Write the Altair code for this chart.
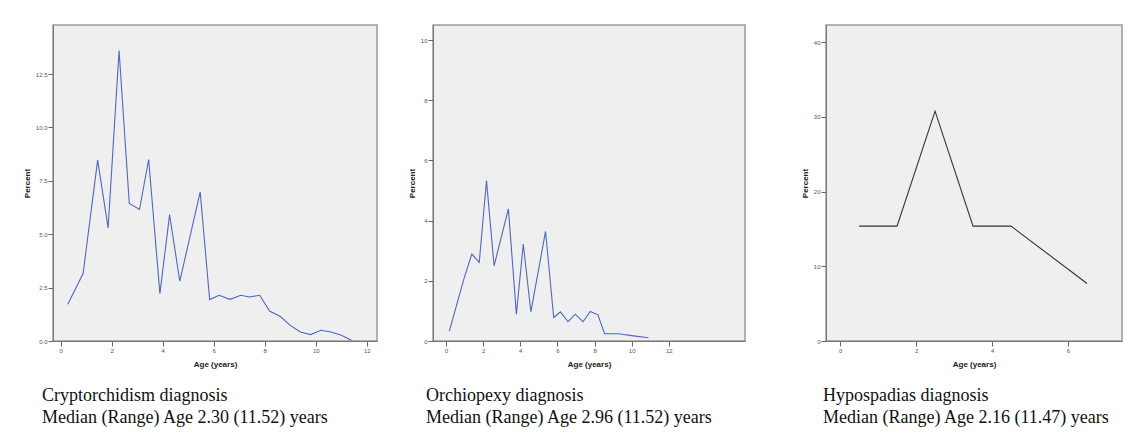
import altair as alt
import pandas as pd

# ---- data ----
crypt_age = [0.28, 0.88, 1.45, 1.86, 2.29, 2.69, 3.09, 3.45, 3.89, 4.27, 4.67, 5.47, 5.84,
             6.21, 6.64, 7.06, 7.40, 7.80, 8.20, 8.60, 9.00, 9.40, 9.80, 10.20, 10.60, 11.00, 11.40]
crypt_pct = [1.72, 3.16, 8.47, 5.30, 13.60, 6.44, 6.16, 8.50, 2.22, 5.92, 2.80, 6.98, 1.94,
             2.14, 1.95, 2.14, 2.06, 2.14, 1.39, 1.16, 0.73, 0.42, 0.30, 0.50, 0.42, 0.27, 0.03]

orch_age = [0.18, 0.98, 1.39, 1.79, 2.18, 2.59, 3.36, 3.79, 4.16, 4.57, 5.36, 5.80, 6.16,
            6.57, 6.96, 7.38, 7.77, 8.18, 8.54, 9.29, 10.10, 10.90]
orch_pct = [0.33, 2.10, 2.89, 2.61, 5.33, 2.50, 4.39, 0.89, 3.22, 0.97, 3.64, 0.78, 0.97,
            0.64, 0.89, 0.64, 0.98, 0.87, 0.24, 0.24, 0.17, 0.11]

hypo_age = [0.5, 1.5, 2.5, 3.5, 4.5, 6.5]
hypo_pct = [15.38, 15.38, 30.77, 15.38, 15.38, 7.69]

crypt_caption = ["Cryptorchidism diagnosis", "Median (Range) Age 2.30 (11.52) years"]
orch_caption = ["Orchiopexy diagnosis", "Median (Range) Age 2.96 (11.52) years"]
hypo_caption = ["Hypospadias diagnosis", "Median (Range) Age 2.16 (11.47) years"]

crypt_yticks = [0, 2.5, 5, 7.5, 10, 12.5]
orch_yticks = [0, 2, 4, 6, 8, 10]
hypo_yticks = [0, 10, 20, 30, 40]
crypt_xticks = [0, 2, 4, 6, 8, 10, 12]
orch_xticks = [0, 2, 4, 6, 8, 10, 12]
hypo_xticks = [0, 2, 4, 6]

H = 316
AX = dict(labelFontSize=6, labelColor="#555", tickSize=5, tickColor="#666",
          domainColor="#777", labelPadding=1, titleFontSize=8, titleFontWeight="bold",
          titleColor="#222", grid=False, labelFont="Liberation Sans", titleFont="Liberation Sans")


def panel(ages, pcts, color, xdom, xticks, ydom, yticks, yfmt, w, caption, cap_dx):
    df = pd.DataFrame({"age": ages, "pct": pcts})
    line = alt.Chart(df).mark_line(color=color, strokeWidth=1.1).encode(
        x=alt.X("age:Q", scale=alt.Scale(domain=xdom, nice=False, zero=False),
                axis=alt.Axis(values=xticks, format="d", title="Age (years)",
                              titlePadding=7, **AX)),
        y=alt.Y("pct:Q", scale=alt.Scale(domain=ydom, nice=False, zero=False),
                axis=alt.Axis(values=yticks, format=yfmt, title="Percent",
                              titlePadding=4, **AX)),
    )
    cap_df = pd.DataFrame({"t": ["\n".join(caption)]})
    cap = alt.Chart(cap_df).mark_text(
        align="left", baseline="top", font="Liberation Serif", fontSize=18,
        color="#111111", lineBreak="\n", lineHeight=22,
    ).encode(x=alt.value(cap_dx), y=alt.value(H + 46), text="t:N")
    return alt.layer(line, cap).properties(width=w, height=H)


p1 = panel(crypt_age, crypt_pct, "#5068c0", [-0.3, 12.4], crypt_xticks, [0, 14.8],
           crypt_yticks, ".1f", 324, crypt_caption, -11)
p2 = panel(orch_age, orch_pct, "#5068c0", [-0.7, 16.1], orch_xticks, [0, 10.5],
           orch_yticks, "d", 312, orch_caption, -7)
p3 = panel(hypo_age, hypo_pct, "#333333", [-0.37, 7.42], hypo_xticks, [0, 42.3],
           hypo_yticks, "d", 296, hypo_caption, -3)

inner = alt.hconcat(p1, p2, spacing=29)
chart = alt.hconcat(inner, p3, spacing=54).configure_view(
    fill="#efefef", stroke="#9a9a9a", strokeWidth=1.5
).properties(
    padding={"left": 14, "top": 16, "right": 5, "bottom": 5},
    background="white",
)

chart.save("out.html", embed_options={"renderer": "svg", "actions": False})
